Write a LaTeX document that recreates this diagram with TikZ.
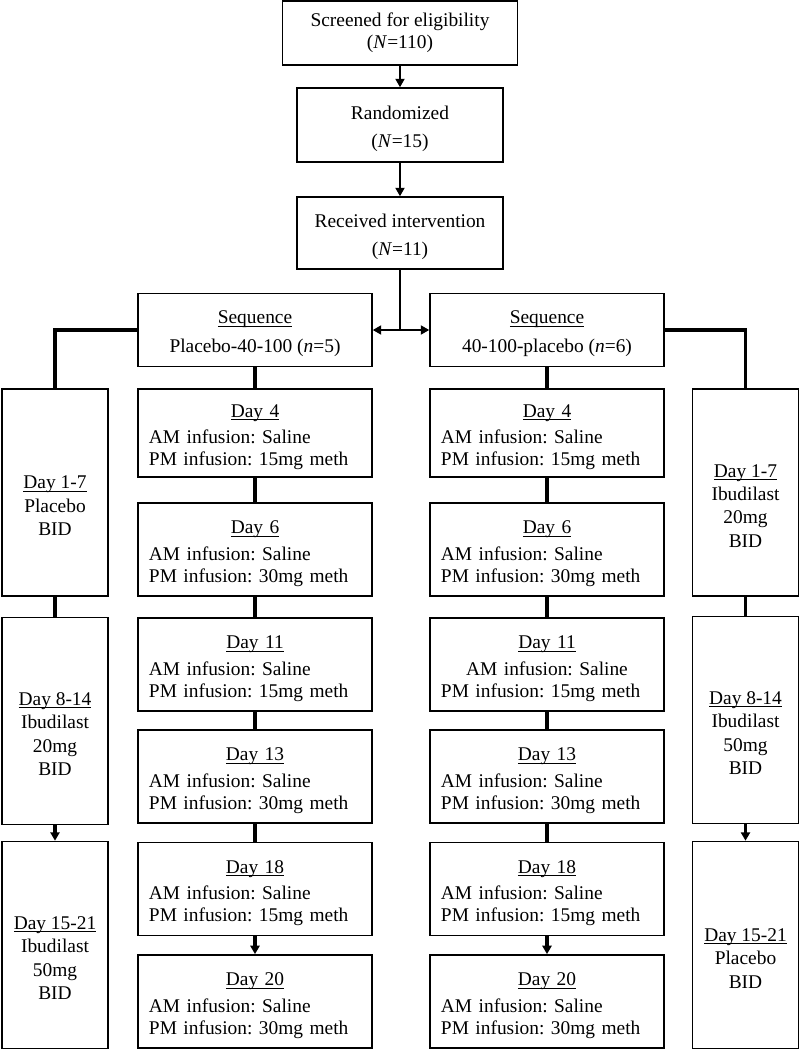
\documentclass[tikz,border=0pt]{standalone}
\usepackage{fontspec}
\setmainfont{Liberation Serif}
\usepackage{tikz}
\usetikzlibrary{positioning}
\usetikzlibrary{arrows.meta}

\tikzset{
  box/.style={draw, line width=1.1pt, align=center, inner sep=2pt,
    font=\fontsize{13.8}{15.6}\selectfont\frenchspacing},
  topbox/.style={box, minimum width=5.15cm, minimum height=1.85cm},
  seqbox/.style={box, minimum width=5.85cm, minimum height=1.825cm},
  daybox/.style={box, minimum width=5.85cm, minimum height=2.33cm,
    align=left, inner xsep=0.275cm, text width=5.3cm},
  sidebox/.style={box, minimum width=2.65cm, minimum height=5.175cm,
    font=\fontsize{13.8}{16.6}\selectfont},
  thin link/.style={line width=1.1pt},
  thick link/.style={line width=2.2pt},
  tip/.style={-{Triangle[length=6pt, width=6.5pt]}}
}

% underlined heading, line close to the baseline
\newcommand{\head}[1]{\underline{\smash{#1}}}
% pushes the text of a box down a little
\newcommand{\dayshift}{\rule{0pt}{15pt}}
\newcommand{\sideshift}{\rule{0pt}{28pt}}

% day box contents
\newcommand{\dayinfo}[2]{\dayshift\hfill\head{Day #1}\hfill\null\\[3pt]
AM infusion: Saline\\
PM infusion: #2mg meth}

\begin{document}
\begin{tikzpicture}[x=0.025cm, y=-0.025cm]
\useasboundingbox (0,0) rectangle (800,1050);

% TOP %
\node[box, minimum width=5.875cm, minimum height=1.6cm] (scr) at (400,33)
{Screened for eligibility\\(\textit{N}=110)};
\node[topbox] (rnd) at (400,125)
{\dayshift Randomized\\[4pt](\textit{N}=15)};
\node[topbox, minimum height=1.8cm] (rec) at (400,233)
{\dayshift Received intervention\\[4pt](\textit{N}=11)};

% sequences
\node[seqbox] (seqA) at (255,330)
{\dayshift\head{Sequence}\\[5pt]Placebo-40-100 (\textit{n}=5)};
\node[seqbox] (seqB) at (547,330)
{\dayshift\head{Sequence}\\[5pt]40-100-placebo (\textit{n}=6)};

%%%%%%%%%%%% Placebo first %%%%%%%%%%%%
\node[sidebox] (sideA1) at (55,492.5) {\sideshift\head{Day 1-7}\\Placebo\\BID};
\node[sidebox] (sideA2) at (55,721) {\sideshift\head{Day 8-14}\\Ibudilast\\20mg\\BID};
\node[sidebox] (sideA3) at (55,945) {\sideshift\head{Day 15-21}\\Ibudilast\\50mg\\BID};

\node[daybox, minimum height=2.2cm] (dayA1) at (255,433) {\dayinfo{4}{15}};
\node[daybox] (dayA2) at (255,549.5) {\dayinfo{6}{30}};
\node[daybox] (dayA3) at (255,664.5) {\dayinfo{11}{15}};
\node[daybox] (dayA4) at (255,776.5) {\dayinfo{13}{30}};
\node[daybox] (dayA5) at (255,889) {\dayinfo{18}{15}};
\node[daybox] (dayA6) at (255,1001.5) {\dayinfo{20}{30}};

%%%%%%%%%%%% Ibudilast first %%%%%%%%%%%%
\node[sidebox] (sideB1) at (745.5,492.5) {\sideshift\head{Day 1-7}\\Ibudilast\\20mg\\BID};
\node[sidebox] (sideB2) at (745.5,720) {\sideshift\head{Day 8-14}\\Ibudilast\\50mg\\BID};
\node[sidebox] (sideB3) at (745.5,945) {\sideshift\head{Day 15-21}\\Placebo\\BID};

\node[daybox, minimum height=2.2cm] (dayB1) at (547,433) {\dayinfo{4}{15}};
\node[daybox] (dayB2) at (547,549.5) {\dayinfo{6}{30}};
\node[daybox] (dayB3) at (547,664.5)
{\dayshift\hfill\head{Day 11}\hfill\null\\[3pt]
\hfill AM infusion: Saline\hfill\null\\
PM infusion: 15mg meth};
\node[daybox] (dayB4) at (547,776.5) {\dayinfo{13}{30}};
\node[daybox] (dayB5) at (547,889) {\dayinfo{18}{15}};
\node[daybox] (dayB6) at (547,1001.5) {\dayinfo{20}{30}};

% links
\draw[thin link, tip] (scr) -- (rnd);
\draw[thin link, tip] (rnd) -- (rec);
\coordinate (split) at (rec.south |- seqA.east);
\draw[thin link] (rec.south) -- (split);
\draw[thin link, tip] (split) -- (seqA.east);
\draw[thin link, tip] (split) -- (seqB.west);

\draw[thick link] (seqA.west) -| (sideA1.north);
\draw[thick link] (seqB.east) -| (sideB1.north);
\draw[thick link] (seqA) -- (dayA1);
\draw[thick link] (seqB) -- (dayB1);

\foreach \s in {A, B}
{
\draw[thick link] (side\s1) -- (side\s2);
\draw[thick link, tip] (side\s2) -- (side\s3);
\foreach \i/\j in {1/2, 2/3, 3/4, 4/5}
\draw[thick link] (day\s\i) -- (day\s\j);
\draw[thick link, tip] (day\s5) -- (day\s6);
}

\end{tikzpicture}
\end{document}
